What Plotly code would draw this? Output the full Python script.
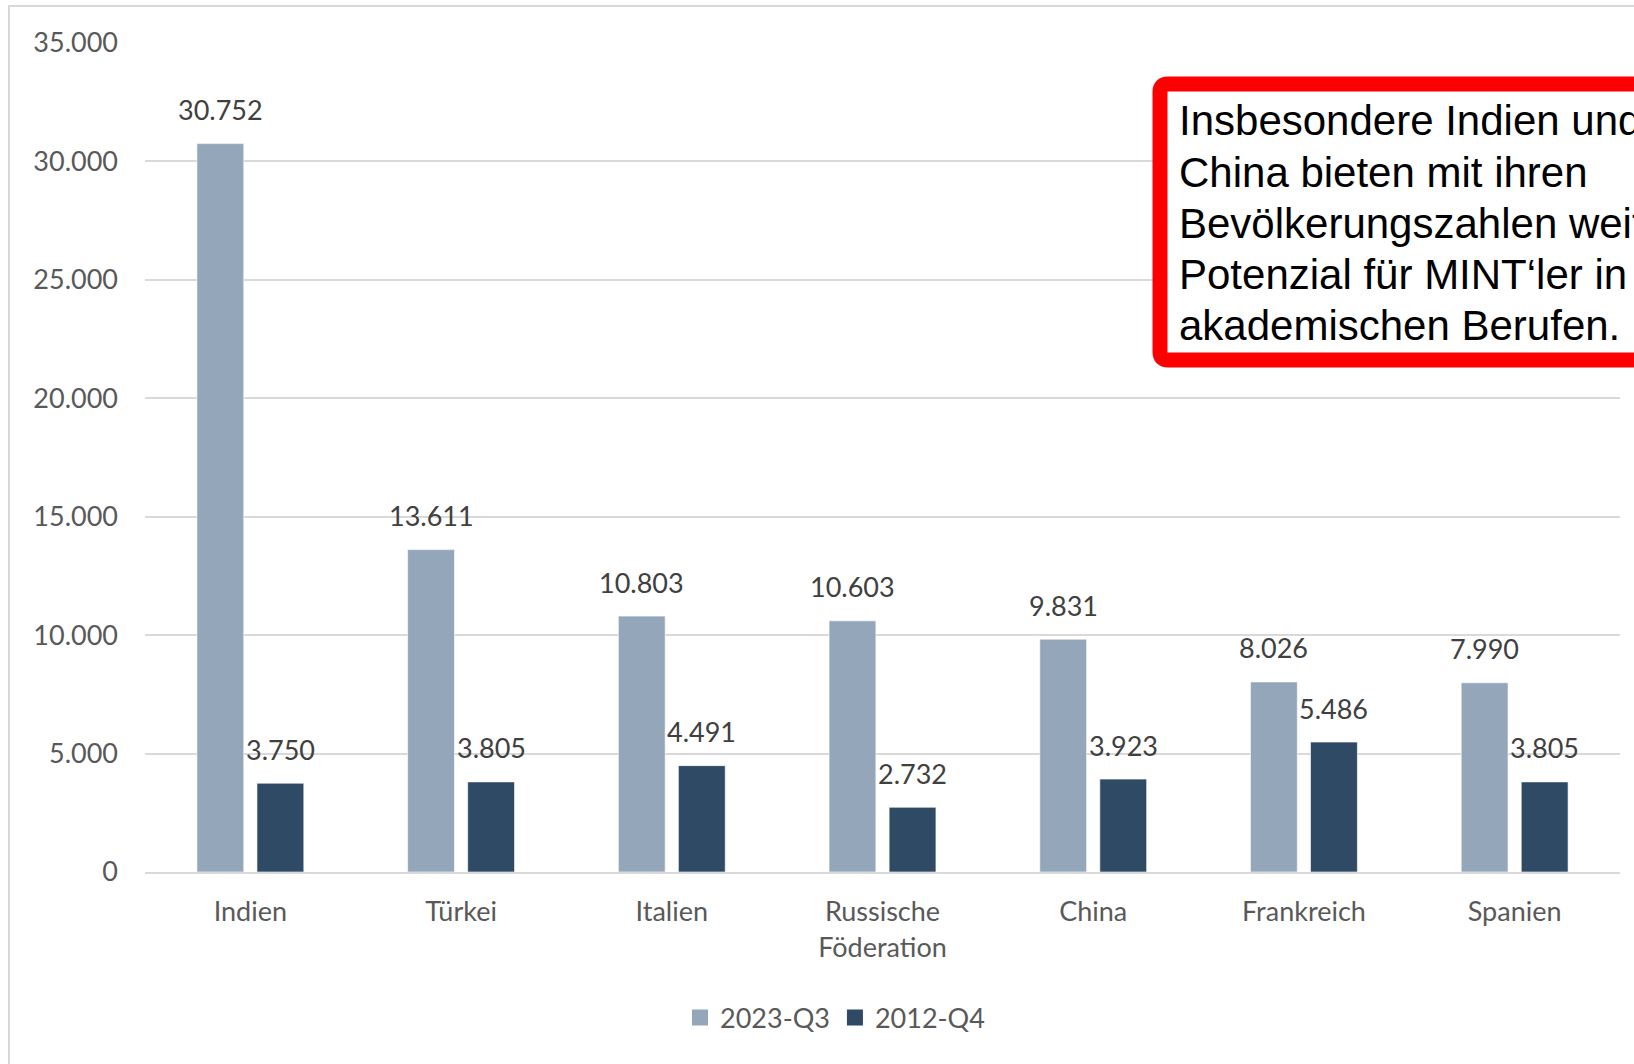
import plotly.graph_objects as go

categories = ["Indien", "Türkei", "Italien", "Russische<br>Föderation", "China", "Frankreich", "Spanien"]
series_names = ["2023-Q3", "2012-Q4"]
values_2023_q3 = [30752, 13611, 10803, 10603, 9831, 8026, 7990]
values_2012_q4 = [3750, 3805, 4491, 2732, 3923, 5486, 3805]
y_ticks = [0, 5000, 10000, 15000, 20000, 25000, 30000, 35000]
note_lines = ["Insbesondere Indien und", "China bieten mit ihren",
              "Bevölkerungszahlen weiteres", "Potenzial für MINT‘ler in",
              "akademischen Berufen."]

W, H = 1634, 1064
L, R, T, B = 145, 14, 43, 192
PW, PH = W - L - R, H - T - B
BARGAP, GROUPGAP = 0.43, 0.22

def px(x):
    return (x - L) / PW

def py(y):
    return (H - B - y) / PH

colors = ["#94A7BA", "#2F4A64"]
font_main = "Lato, Carlito, Calibri, sans-serif"

fig = go.Figure()
for name, vals, col in zip(series_names, [values_2023_q3, values_2012_q4], colors):
    fig.add_trace(go.Bar(
        x=categories, y=vals, name=name, showlegend=False,
        marker=dict(color=col, line=dict(color="rgba(255,255,255,0.6)", width=1)),
    ))
# legend entries with larger square swatches
for name, col in zip(series_names, colors):
    fig.add_trace(go.Scatter(
        x=[None], y=[None], name=name, mode="markers",
        marker=dict(symbol="square", size=18, color=col),
    ))

cat_w = PW / len(categories)
offset = cat_w * (1 - BARGAP) / 4
annotations = []
for k, vals in enumerate([values_2023_q3, values_2012_q4]):
    sign = -1 if k == 0 else 1
    for c, v in zip(categories, vals):
        annotations.append(dict(
            x=c, y=v, xref="x", yref="y", text=f"{v:,}".replace(",", "."),
            showarrow=False, xshift=sign * offset, yshift=34, yanchor="middle",
            font=dict(family=font_main, size=27, color="#404040"),
        ))

line_step = 51.2
for i, line in enumerate(note_lines):
    annotations.append(dict(
        x=px(1177), y=py(121 + i * line_step), xref="paper", yref="paper",
        xanchor="left", yanchor="middle", text=line, align="left", showarrow=False,
        font=dict(family="Liberation Sans, Arial, sans-serif", size=42, color="#000000"),
    ))

shapes = [
    dict(type="rect", xref="paper", yref="paper", x0=px(9), x1=px(1700), y0=py(1100), y1=py(6),
         line=dict(color="#D9D9D9", width=2), fillcolor="rgba(0,0,0,0)", layer="below"),
]
# rounded red box
x0b, x1b, y0b, y1b, r = px(1160), px(1720), py(84), py(360), 8
rx, ry = r / PW, r / PH
path = (f"M {x0b+rx},{y0b} L {x1b},{y0b} L {x1b},{y1b} L {x0b+rx},{y1b} "
        f"Q {x0b},{y1b} {x0b},{y1b+ry} L {x0b},{y0b-ry} Q {x0b},{y0b} {x0b+rx},{y0b} Z")
shapes.append(dict(type="path", xref="paper", yref="paper", path=path,
                   line=dict(color="#FF0000", width=15), fillcolor="#FFFFFF", layer="above"))

fig.update_layout(
    width=W, height=H,
    margin=dict(l=L, r=R, t=T, b=B, autoexpand=False),
    paper_bgcolor="#FFFFFF", plot_bgcolor="#FFFFFF",
    separators=",.",
    barmode="group", bargap=BARGAP, bargroupgap=GROUPGAP,
    font=dict(family=font_main, size=27, color="#595959"),
    xaxis=dict(showgrid=False, showline=True, linecolor="#D9D9D9", linewidth=2,
               ticks="", tickfont=dict(size=27, color="#595959"), ticklabelstandoff=15),
    yaxis=dict(range=[0, 35000], tickvals=y_ticks, tickformat=",d",
               showgrid=True, gridcolor="#D9D9D9", gridwidth=2, zeroline=False,
               showline=False, ticks="", tickfont=dict(size=27, color="#595959"),
               ticklabelstandoff=26),
    legend=dict(orientation="h", x=px(835), xanchor="center", y=py(1018), yanchor="middle",
                font=dict(size=27, color="#595959"), itemwidth=30, tracegroupgap=0),
    annotations=annotations,
    shapes=shapes,
)

fig.write_html("out.html")
